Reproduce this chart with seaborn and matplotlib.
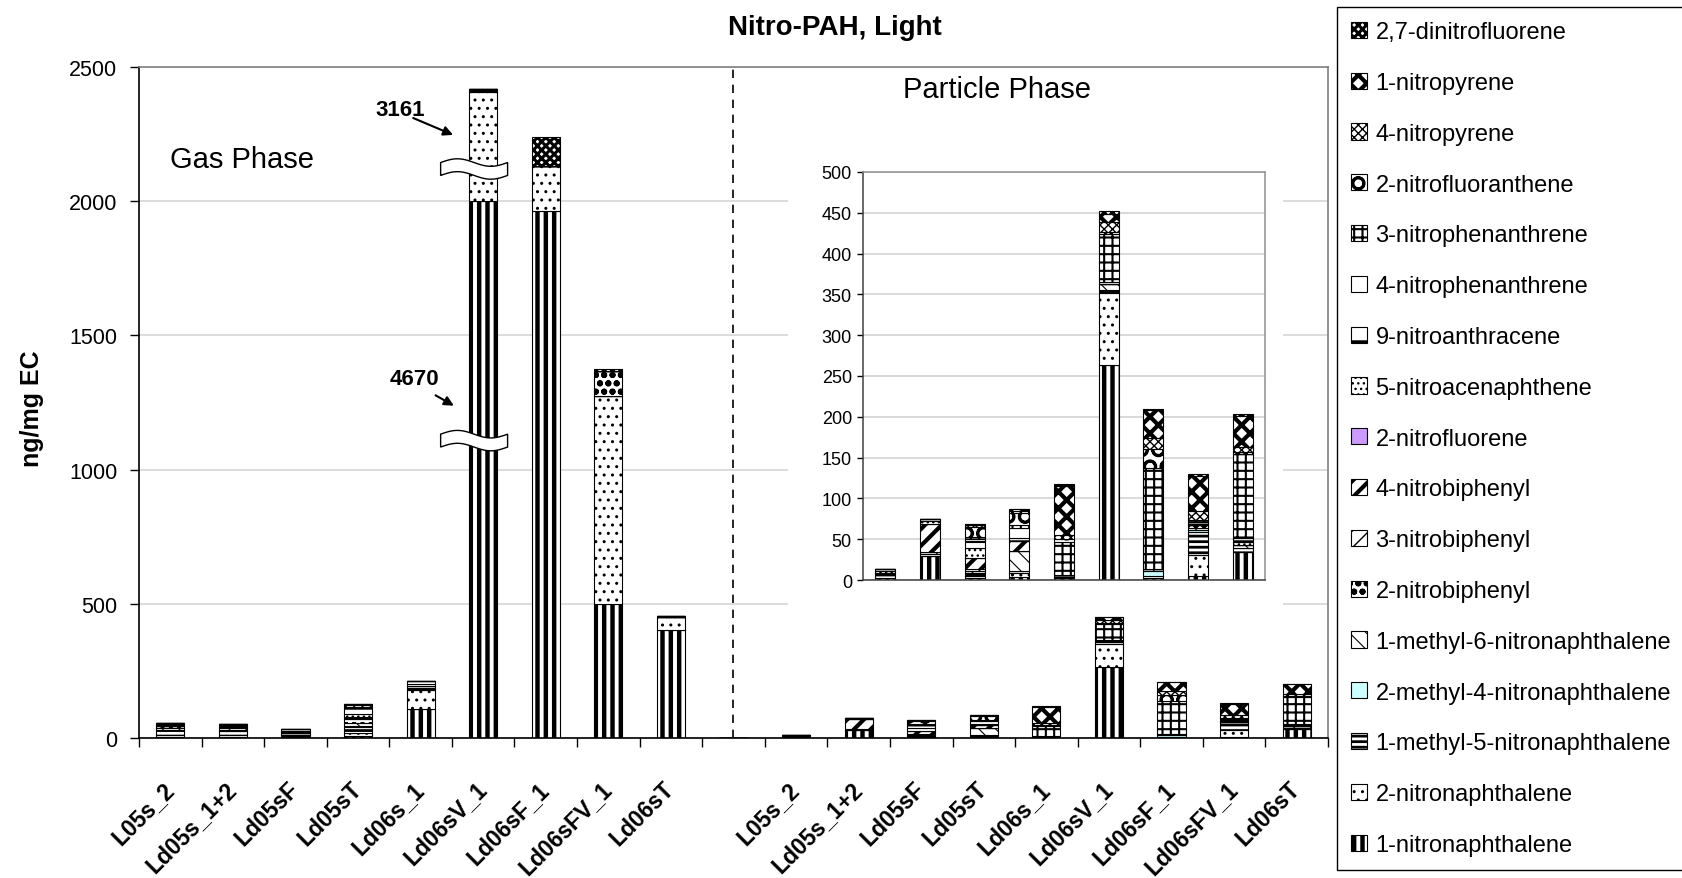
import matplotlib.pyplot as plt
import numpy as np
import seaborn as sns

# samples on the x axis (same 9 for gas and particle phase)
samples = ["L05s_2", "Ld05s_1+2", "Ld05sF", "Ld05sT", "Ld06s_1",
           "Ld06sV_1", "Ld06sF_1", "Ld06sFV_1", "Ld06sT"]

# compounds, bottom of the stack first
compounds = [
    "1-nitronaphthalene", "2-nitronaphthalene", "1-methyl-5-nitronaphthalene",
    "2-methyl-4-nitronaphthalene", "1-methyl-6-nitronaphthalene", "2-nitrobiphenyl",
    "3-nitrobiphenyl", "4-nitrobiphenyl", "2-nitrofluorene", "5-nitroacenaphthene",
    "9-nitroanthracene", "4-nitrophenanthrene", "3-nitrophenanthrene",
    "2-nitrofluoranthene", "4-nitropyrene", "1-nitropyrene", "2,7-dinitrofluorene",
]

# ng/mg EC: 9 gas phase values, then 9 particle phase values
# (gas Ld06sV_1 is drawn cut at the axis break; real values 4670 and 3161)
n1_naph = [5, 4, 3, 8, 108, 2000, 1963, 500, 402, 2, 29, 3, 4, 2, 264, 2, 5, 34]
n2_naph = [6, 8, 4, 10, 72, 407, 168, 774, 50, 1, 1, 2, 4, 2, 88, 0, 26, 0]
m1n5_naph = [18, 14, 12, 22, 4, 3, 0, 0, 0, 4, 2, 4, 3, 2, 4, 3, 28, 5]
m2n4_naph = [2, 2, 0, 3, 0, 0, 0, 0, 0, 0, 0, 0, 0, 0, 0, 6, 2, 0]
m1n6_naph = [8, 8, 5, 12, 4, 0, 0, 0, 0, 2, 2, 2, 25, 0, 7, 3, 3, 4]
n2_biph = [4, 6, 3, 15, 4, 4, 0, 93, 0, 0, 0, 0, 0, 0, 0, 0, 3, 0]
n3_biph = [2, 2, 0, 6, 0, 0, 0, 0, 0, 0, 0, 3, 0, 0, 0, 0, 0, 0]
n4_biph = [0, 0, 0, 4, 0, 0, 0, 0, 0, 0, 35, 13, 12, 0, 0, 0, 0, 0]
n2_fluorene = [0, 0, 0, 0, 0, 0, 0, 0, 0, 0, 0, 0, 0, 0, 0, 0, 0, 0]
n5_acenaph = [3, 2, 0, 10, 11, 5, 0, 0, 0, 2, 3, 12, 0, 0, 0, 0, 0, 3]
n9_anthr = [8, 6, 6, 27, 10, 0, 0, 0, 4, 2, 3, 9, 4, 0, 2, 0, 4, 5]
n4_phen = [0, 0, 0, 0, 0, 0, 0, 0, 0, 0, 0, 2, 12, 0, 0, 0, 0, 0]
n3_phen = [0, 0, 0, 5, 0, 0, 0, 0, 0, 0, 0, 3, 3, 40, 59, 123, 3, 103]
n2_fluoranth = [0, 0, 0, 5, 0, 0, 0, 0, 0, 0, 0, 12, 15, 4, 3, 23, 0, 3]
n4_pyr = [0, 0, 0, 0, 0, 0, 0, 0, 0, 0, 0, 2, 3, 5, 12, 14, 10, 6]
n1_pyr = [0, 0, 0, 0, 0, 0, 0, 0, 0, 0, 0, 1.6, 2, 60, 10, 34, 44, 38]
dn27_fluorene = [0, 0, 0, 0, 0, 0, 108, 8, 0, 0, 0, 0, 0, 2.6, 3, 1, 2, 2]

series = [n1_naph, n2_naph, m1n5_naph, m2n4_naph, m1n6_naph, n2_biph, n3_biph,
          n4_biph, n2_fluorene, n5_acenaph, n9_anthr, n4_phen, n3_phen,
          n2_fluoranth, n4_pyr, n1_pyr, dn27_fluorene]

# fill styles (Excel-like pattern fills)
faces = ["white", "white", "white", "#ccffff", "white", "white", "white", "white",
         "#cc99ff", "white", "white", "white", "white", "white", "white", "white", "white"]
hatches = ["||", "..", "---", None, "\\\\", "oo", "//", "//", None, "...",
           "-", None, "++", "O", "xxxx", "XX", "xxxx"]
hatch_lws = [3.2, 1, 2, 1, 0.8, 2, 1, 3, 1, 1, 2, 1, 1.5, 2, 1, 3, 2.2]

sns.set_theme(style="white")
plt.rcParams["font.family"] = ["Liberation Sans", "DejaVu Sans"]
plt.rcParams["text.color"] = "black"
plt.rcParams["xtick.color"] = "black"
plt.rcParams["ytick.color"] = "black"
plt.rcParams["hatch.linewidth"] = 1.2

W, H = 1682, 879
fig = plt.figure(figsize=(W / 100, H / 100), dpi=100)
ax = fig.add_axes([139 / W, 1 - 739 / H, (1328 - 139) / W, (739 - 68) / H])

keys = [f"gas {s}" for s in samples] + ["gap"] + [f"particle {s}" for s in samples]
bottom = np.zeros(len(keys))
for name, vals, face, hatch in zip(compounds, series, faces, hatches):
    v = np.array(vals[:9] + [0] + vals[9:], dtype=float)
    sns.barplot(x=keys, y=v, bottom=bottom.copy(), color=face, saturation=1,
                hatch=hatch, edgecolor="black", linewidth=0.8, width=0.45,
                errorbar=None, ax=ax, label=name)
    bottom += v


def set_hatch_widths(axis):
    for cont, lw in zip(axis.containers, hatch_lws):
        for p in cont:
            if hasattr(p, "set_hatch_linewidth"):
                p.set_hatch_linewidth(lw)


set_hatch_widths(ax)
if ax.get_legend() is not None:
    ax.get_legend().remove()

ax.set_xlim(-0.5, 18.5)
ax.set_ylim(0, 2500)
ax.set_yticks(range(0, 2501, 500))
ax.set_xticks(range(19))
ax.set_xticklabels(samples + [""] + samples, rotation=45, ha="right", va="center",
                   rotation_mode="anchor", fontsize=16.5, fontweight="bold")
ax.set_xticks(np.arange(-0.5, 19), minor=True)
ax.tick_params(axis="x", which="major", length=0, pad=34)
ax.tick_params(axis="x", which="minor", length=6.5, width=1, direction="out", bottom=True)
ax.tick_params(axis="y", length=6.5, width=1, direction="out", left=True, labelsize=15.5, pad=9)
ax.set_xlabel("")
ax.set_ylabel("")
ax.yaxis.grid(True, color="#d9d9d9", lw=1.3)
ax.xaxis.grid(False)
ax.set_axisbelow(True)
for side in ["left", "bottom"]:
    ax.spines[side].set_color("black")
    ax.spines[side].set_linewidth(1.2)
for side in ["top", "right"]:
    ax.spines[side].set_color("#808080")
    ax.spines[side].set_linewidth(1.2)

# phase separator
ax.axvline(9, color="black", ls=(0, (5, 4)), lw=1.2, zorder=0.5)

ax.text(0.026, 0.863, "Gas Phase", transform=ax.transAxes, fontsize=21,
        ha="left", va="center")
ax.text(0.7216, 0.967, "Particle Phase", transform=ax.transAxes, fontsize=21,
        ha="center", va="center")

# axis-break marks on the tallest gas phase bar
for yc in [1108, 2120]:
    t = np.linspace(0, 1, 80)
    xs = 5 - 0.68 + 1.07 * t
    wave = 14 * np.sin(2 * np.pi * t)
    top = yc + 24 + wave
    bot = yc - 24 + wave
    ax.fill(np.r_[xs, xs[::-1]], np.r_[top, bot[::-1]], facecolor="white",
            edgecolor="black", lw=1, zorder=5)

ax.text(3.68, 2343, "3161", fontsize=16, fontweight="bold", ha="center", va="center")
ax.annotate("", xy=(4.56, 2243), xytext=(3.84, 2314),
            arrowprops=dict(arrowstyle="-|>", color="black", lw=1.5, mutation_scale=14))
ax.text(3.9, 1338, "4670", fontsize=16, fontweight="bold", ha="center", va="center")
ax.annotate("", xy=(4.57, 1233), xytext=(4.2, 1282),
            arrowprops=dict(arrowstyle="-|>", color="black", lw=1.5, mutation_scale=14))

# white chart area behind the inset
bg = fig.add_axes([788 / W, 1 - 612 / H, (1283 - 788) / W, (612 - 150) / H])
bg.set_facecolor("white")
bg.set_xticks([])
bg.set_yticks([])
for s in bg.spines.values():
    s.set_visible(False)

# inset: particle phase zoomed
ins = fig.add_axes([863 / W, 1 - 581 / H, (1265 - 863) / W, (581 - 173) / H])
bottom = np.zeros(len(samples))
for name, vals, face, hatch in zip(compounds, series, faces, hatches):
    v = np.array(vals[9:], dtype=float)
    sns.barplot(x=samples, y=v, bottom=bottom.copy(), color=face, saturation=1,
                hatch=hatch, edgecolor="black", linewidth=0.8, width=0.45,
                errorbar=None, ax=ins, label=name)
    bottom += v
set_hatch_widths(ins)
if ins.get_legend() is not None:
    ins.get_legend().remove()
ins.set_xlim(-0.5, 8.5)
ins.set_ylim(0, 500)
ins.set_yticks(range(0, 501, 50))
ins.set_xticks([])
ins.set_xlabel("")
ins.set_ylabel("")
ins.tick_params(axis="y", length=4, width=1, direction="out", left=True, labelsize=13, pad=4)
ins.yaxis.grid(True, color="#d0d0d0", lw=1.1)
ins.set_axisbelow(True)
for side in ["left", "bottom"]:
    ins.spines[side].set_color("#404040")
    ins.spines[side].set_linewidth(1.1)
for side in ["top", "right"]:
    ins.spines[side].set_color("#909090")
    ins.spines[side].set_linewidth(1.1)

# legend, top of the stack first
handles = list(ax.containers)[::-1]
leg = fig.legend(handles, compounds[::-1], loc="upper left",
                 bbox_to_anchor=(1337 / W, 1 - 8 / H), fontsize=17, frameon=True,
                 fancybox=False, edgecolor="black", framealpha=1,
                 handlelength=0.68, handleheight=0.68, handletextpad=0.35,
                 labelspacing=1.22, borderpad=0.6, borderaxespad=0)
leg.get_frame().set_linewidth(1.0)
for p, lw in zip(leg.get_patches(), hatch_lws[::-1]):
    if hasattr(p, "set_hatch_linewidth"):
        p.set_hatch_linewidth(lw)

fig.text(835 / W, 1 - 28 / H, "Nitro-PAH, Light", ha="center", va="center",
         fontsize=20, fontweight="bold")
fig.text(32 / W, 1 - 409 / H, "ng/mg EC", rotation=90, ha="center", va="center",
         fontsize=18, fontweight="bold")

fig.savefig("out.png", dpi=100)
